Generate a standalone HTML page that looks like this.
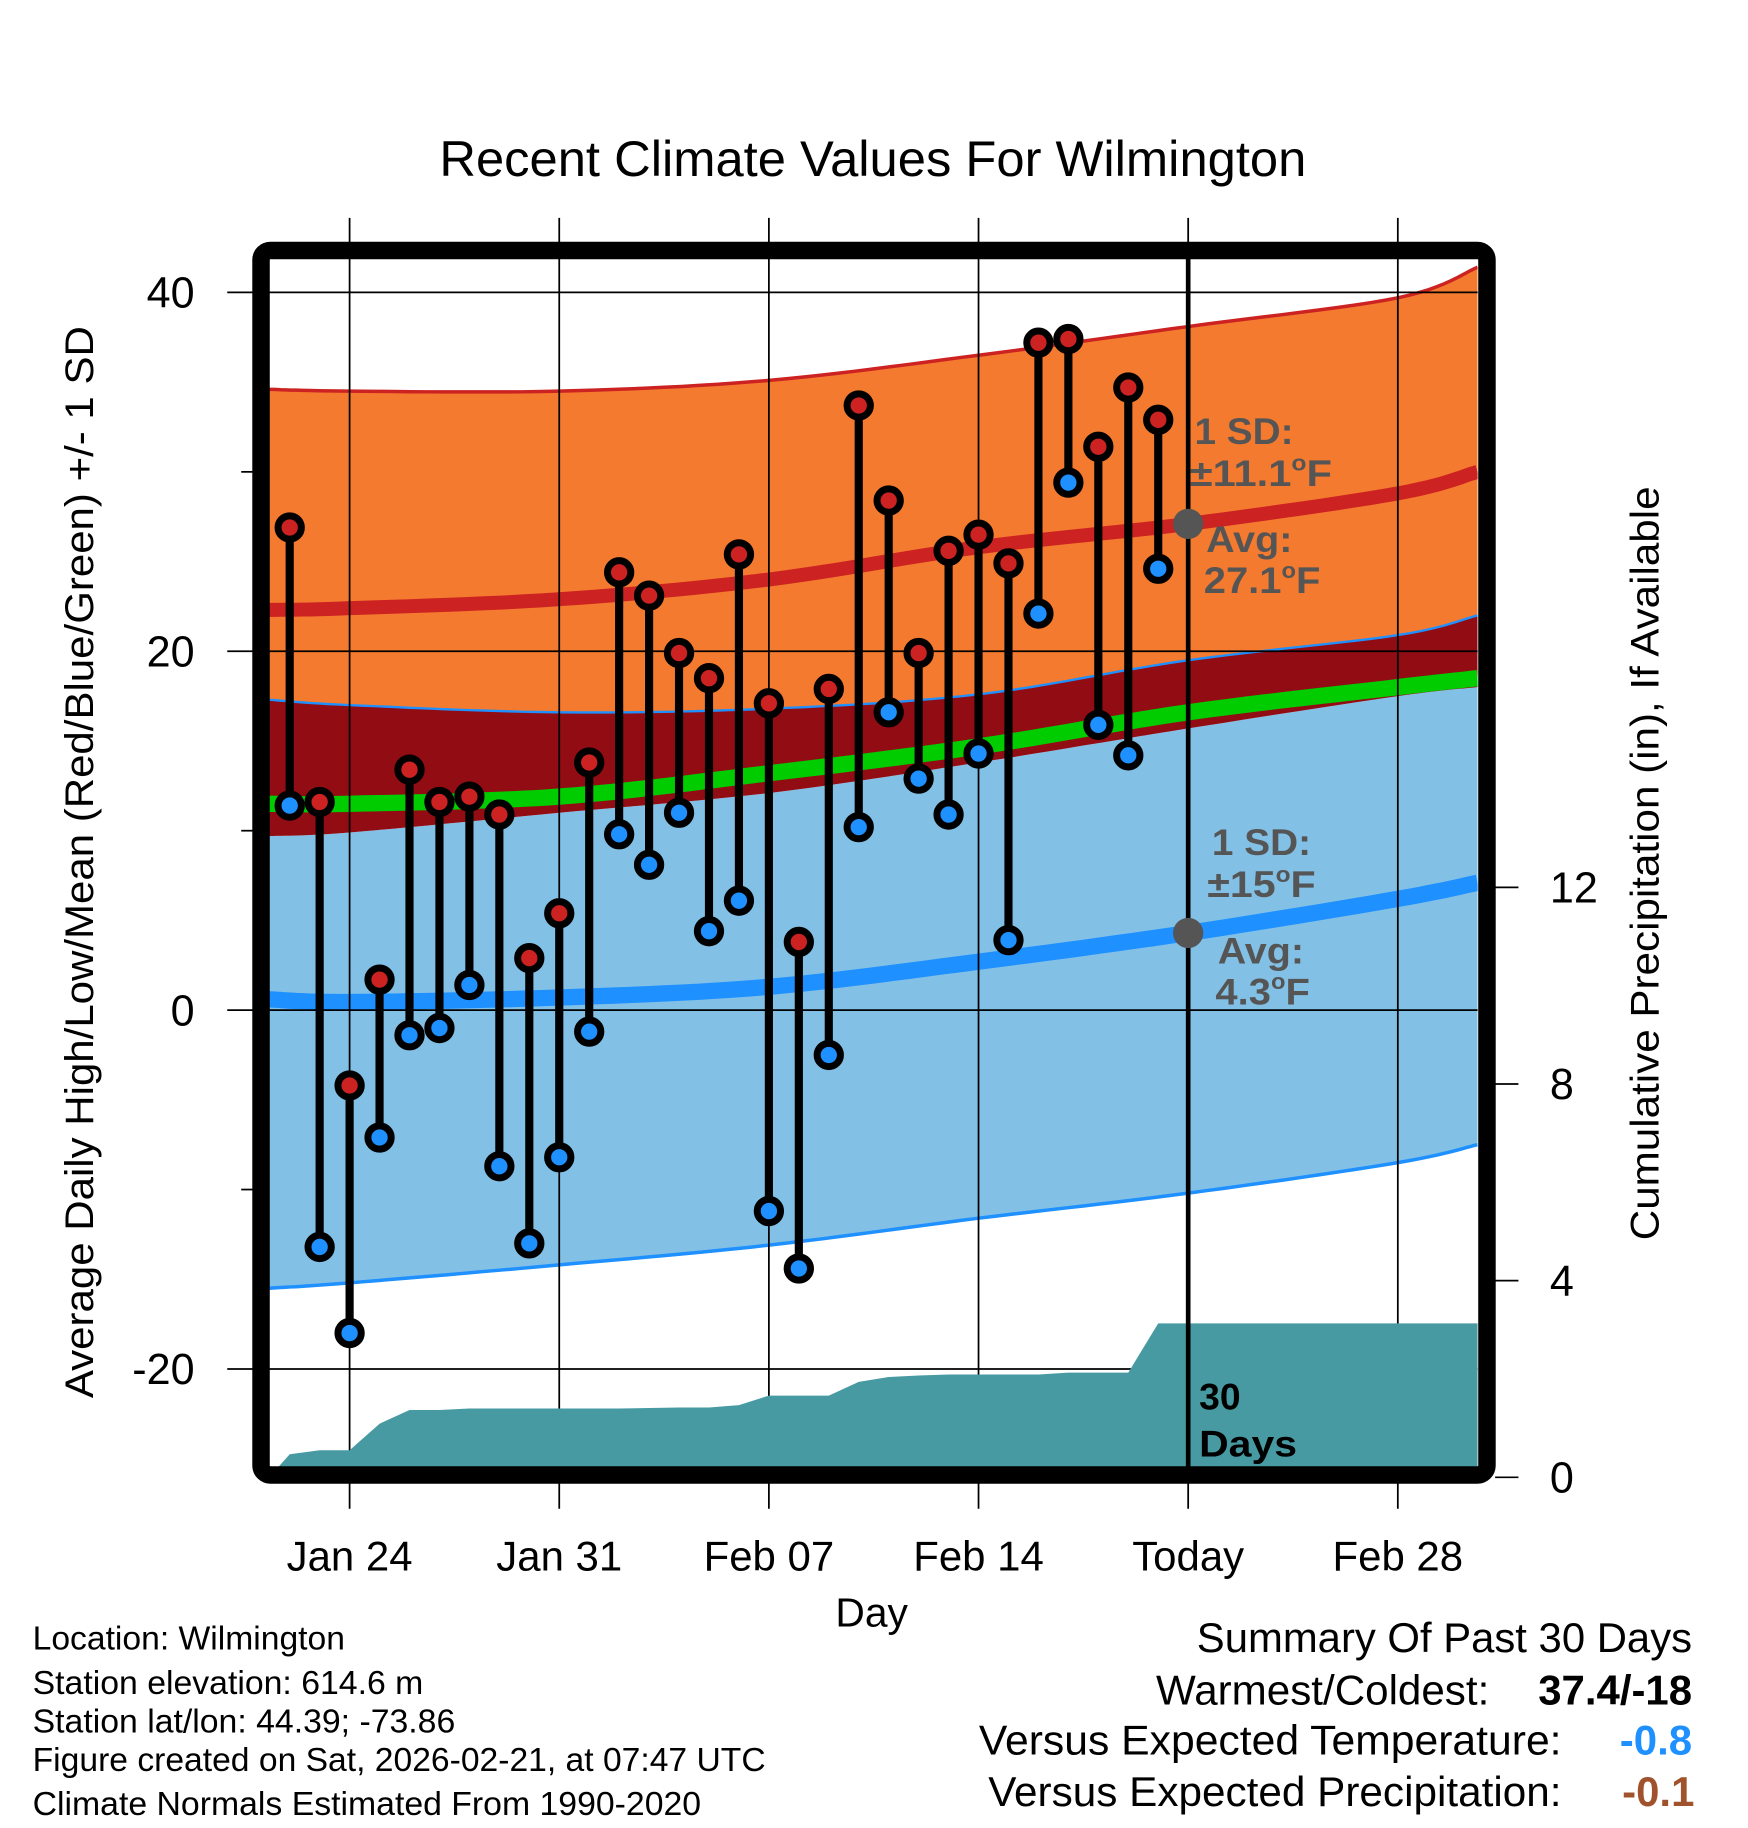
<!DOCTYPE html>
<html><head><meta charset="utf-8"><style>
html,body{margin:0;padding:0;background:#fff}
svg{display:block;font-family:"Liberation Sans",Arial,sans-serif}
</style></head><body>
<svg id="chart" width="1748" height="1828" viewBox="0 0 1500 1569" preserveAspectRatio="none" xmlns="http://www.w3.org/2000/svg">
<defs><clipPath id="plotclip"><rect x="231" y="222" width="1037" height="1037"/></clipPath></defs>
<g id="bands" clip-path="url(#plotclip)"></g>
<g id="grid"></g>
<g id="precip" clip-path="url(#plotclip)"></g>
<g id="marks"></g>
<rect x="224" y="215" width="1052" height="1051" rx="8" fill="none" stroke="#000" stroke-width="15"/>
<g id="labels"></g>
<text x="377" y="151" font-size="43" textLength="744" lengthAdjust="spacingAndGlyphs">Recent Climate Values For Wilmington</text>
<text transform="translate(80,740) rotate(-90)" font-size="34" text-anchor="middle" textLength="920" lengthAdjust="spacingAndGlyphs">Average Daily High/Low/Mean (Red/Blue/Green) +/- 1 SD</text>
<text transform="translate(1423,741) rotate(-90)" font-size="34" text-anchor="middle" textLength="647" lengthAdjust="spacingAndGlyphs">Cumulative Precipitation (in), If Available</text>
<text x="748" y="1396" font-size="35" text-anchor="middle">Day</text>
<g font-size="29">
<text x="28" y="1416" textLength="268" lengthAdjust="spacingAndGlyphs">Location: Wilmington</text>
<text x="28" y="1454">Station elevation: 614.6 m</text>
<text x="28" y="1487">Station lat/lon: 44.39; -73.86</text>
<text x="28" y="1520" textLength="629" lengthAdjust="spacingAndGlyphs">Figure created on Sat, 2026-02-21, at 07:47 UTC</text>
<text x="28" y="1558">Climate Normals Estimated From 1990-2020</text>
</g>
<g font-size="36">
<text x="1027" y="1418" textLength="425" lengthAdjust="spacingAndGlyphs">Summary Of Past 30 Days</text>
<text x="992" y="1463" textLength="286" lengthAdjust="spacingAndGlyphs">Warmest/Coldest:</text>
<text x="1320" y="1463" font-weight="bold" textLength="132" lengthAdjust="spacingAndGlyphs">37.4/-18</text>
<text x="840" y="1506" textLength="500" lengthAdjust="spacingAndGlyphs">Versus Expected Temperature:</text>
<text x="1452" y="1506" text-anchor="end" font-weight="bold" fill="#1e90ff">-0.8</text>
<text x="848" y="1550" textLength="492" lengthAdjust="spacingAndGlyphs">Versus Expected Precipitation:</text>
<text x="1454" y="1550" text-anchor="end" font-weight="bold" fill="#a0522d">-0.1</text>
</g>
</svg>
<script>
// normals sampled at day offsets from Jan 24
const normDays = [-2.68, 0, 7, 14, 21, 28, 35, 37.66];
const highPlusSD = [34.6, 34.5, 34.5, 35.1, 36.5, 38.1, 39.7, 41.4];
const highMean = [22.3, 22.4, 22.9, 24.0, 25.8, 27.1, 28.8, 30.0];
const highMinusSD = [17.3, 17.0, 16.6, 16.8, 17.6, 19.5, 20.9, 22.0];
const lowPlusSD = [9.7, 9.9, 11.0, 12.1, 13.8, 15.7, 17.5, 18.0];
const meanLine = [11.5, 11.5, 11.9, 13.2, 14.7, 16.6, 18.0, 18.5];
const lowMean = [0.6, 0.45, 0.7, 1.3, 2.7, 4.3, 6.2, 7.1];
const lowMinusSD = [-15.5, -15.2, -14.2, -13.1, -11.6, -10.2, -8.5, -7.5];
// observed days (offset from Jan 24)
const obsDays = [-2,-1,0,1,2,3,4,5,6,7,8,9,10,11,12,13,14,15,16,17,18,19,20,21,22,23,24,25,26,27];
const highs = [26.9,11.6,-4.2,1.7,13.4,11.6,11.9,10.9,2.9,5.4,13.8,24.4,23.1,19.9,18.5,25.4,17.1,3.8,17.9,33.7,28.4,19.9,25.6,26.5,24.9,37.2,37.4,31.4,34.7,32.9];
const lows = [11.4,-13.2,-18.0,-7.1,-1.4,-1.0,1.4,-8.7,-13.0,-8.2,-1.2,9.8,8.1,11.0,4.4,6.1,-11.2,-14.4,-2.5,10.2,16.6,12.9,10.9,14.3,3.9,22.1,29.4,15.9,14.2,24.6];
const precip = [0.47,0.55,0.55,1.09,1.37,1.37,1.40,1.40,1.40,1.40,1.40,1.40,1.41,1.42,1.42,1.47,1.66,1.66,1.66,1.94,2.04,2.07,2.09,2.09,2.09,2.09,2.13,2.13,2.13,3.13];
const yTicks = [40,20,0,-20];
const yMinor = [30,10,-10];
const pTicks = [0,4,8,12];
const xTickDays = [0,7,14,21,28,35];
const xTickLabels = ["Jan 24","Jan 31","Feb 07","Feb 14","Today","Feb 28"];

const NS = "http://www.w3.org/2000/svg";
const xS = d => 300 + d * 25.7;
const yS = t => 867 - t * 15.4;
const pS = p => 1268 - p * 42.2;
function mk(tag, attrs, parent) {
  const e = document.createElementNS(NS, tag);
  for (const k in attrs) e.setAttribute(k, attrs[k]);
  parent.appendChild(e);
  return e;
}
function pts(days, vals, f) { return days.map((d, i) => xS(d).toFixed(1) + "," + f(vals[i]).toFixed(1)); }
// smooth curve samples via Catmull-Rom
function smooth(vals) {
  const P = normDays.map((d, i) => [xS(d), yS(vals[i])]);
  const out = [];
  for (let i = 0; i < P.length - 1; i++) {
    const p0 = P[Math.max(0, i - 1)], p1 = P[i], p2 = P[i + 1], p3 = P[Math.min(P.length - 1, i + 2)];
    for (let s = 0; s < 12; s++) {
      const t = s / 12, t2 = t * t, t3 = t2 * t;
      const f = (a, b, c, d) => 0.5 * (2 * b + (-a + c) * t + (2 * a - 5 * b + 4 * c - d) * t2 + (-a + 3 * b - 3 * c + d) * t3);
      out.push([f(p0[0], p1[0], p2[0], p3[0]), f(p0[1], p1[1], p2[1], p3[1])]);
    }
  }
  out.push(P[P.length - 1]);
  return out.map(p => p[0].toFixed(1) + "," + p[1].toFixed(1));
}
function band(top, bot) {
  return "M" + smooth(top).join(" L") + " L" + smooth(bot).reverse().join(" L") + " Z";
}
const bands = document.getElementById("bands");
let e;
e = mk("path", {d: band(highPlusSD, highMinusSD), fill: "#f47a2f"}, bands);


e = mk("path", {d: band(lowPlusSD, lowMinusSD), fill: "#82c0e6"}, bands);


e = mk("path", {d: band(highMinusSD, lowPlusSD), fill: "#920c14"}, bands);


function line(vals, color, w, name) {
  const l = mk("polyline", {points: smooth(vals).join(" "), fill: "none", stroke: color, "stroke-width": w}, bands);
  
  
}
line(highPlusSD, "#cc2222", 3, "high-plus-sd-line");
line(highMinusSD, "#1e90ff", 2, "high-minus-sd-line");
line(meanLine, "#00cc00", 14, "mean-normal-line");
line(highMean, "#cc2222", 12, "high-normal-line");
line(lowMean, "#1e90ff", 14, "low-normal-line");
line(lowMinusSD, "#1e90ff", 3, "low-minus-sd-line");

const grid = document.getElementById("grid");
yTicks.forEach(t => {
  e = mk("line", {x1: 195, x2: 1268, y1: yS(t), y2: yS(t), stroke: "#000", "stroke-width": 1.5}, grid);
  
  
  e = mk("text", {x: 167, y: yS(t) + 13, "font-size": 37, "text-anchor": "end"}, grid);
  e.textContent = t;
  
  
});
yMinor.forEach(t => {
  e = mk("line", {x1: 207, x2: 217, y1: yS(t), y2: yS(t), stroke: "#000", "stroke-width": 1.5}, grid);
  
  
});
pTicks.forEach(p => {
  e = mk("line", {x1: 1283, x2: 1303, y1: pS(p), y2: pS(p), stroke: "#000", "stroke-width": 1.5}, grid);
  
  
  e = mk("text", {x: 1330, y: pS(p) + 13, "font-size": 37}, grid);
  e.textContent = p;
  
  
});
xTickDays.forEach((d, i) => {
  e = mk("line", {x1: xS(d), x2: xS(d), y1: 187, y2: 1295, stroke: "#000", "stroke-width": 1.5}, grid);
  
  
  e = mk("text", {x: xS(d), y: 1348, "font-size": 36, "text-anchor": "middle"}, grid);
  e.textContent = xTickLabels[i];
  
  
});

const pg = document.getElementById("precip");
let pd = "M231,1268 L" + pts(obsDays, precip, pS).join(" L") + " L1268," + pS(precip[precip.length - 1]).toFixed(1) + " L1268,1268 Z";
e = mk("path", {d: pd, fill: "#479aa2"}, pg);



const mg = document.getElementById("marks");
e = mk("line", {x1: xS(28), x2: xS(28), y1: 222, y2: 1259, stroke: "#000", "stroke-width": 4}, mg);


obsDays.forEach((d, i) => {
  e = mk("line", {x1: xS(d), x2: xS(d), y1: yS(highs[i]), y2: yS(lows[i]), stroke: "#000", "stroke-width": 7}, mg);
  
  
});
obsDays.forEach((d, i) => {
  e = mk("circle", {cx: xS(d), cy: yS(highs[i]), r: 10, fill: "#cc2222", stroke: "#000", "stroke-width": 6}, mg);
  
  
  e = mk("circle", {cx: xS(d), cy: yS(lows[i]), r: 10, fill: "#1e90ff", stroke: "#000", "stroke-width": 6}, mg);
  
  
});
e = mk("circle", {cx: xS(28), cy: yS(highMean[5]), r: 13, fill: "#555"}, mg);


e = mk("circle", {cx: xS(28), cy: yS(lowMean[5]), r: 13, fill: "#555"}, mg);



const lg = document.getElementById("labels");
function lab(x, y, txt, name, color, len) {
  const t = mk("text", {x: x, y: y, "font-size": 32, "font-weight": "bold", fill: color}, lg);
  if (len) { t.setAttribute("textLength", len); t.setAttribute("lengthAdjust", "spacingAndGlyphs"); }
  t.innerHTML = txt;
  
  
}
const deg = "<tspan font-size='19' dy='-13'>o</tspan><tspan dy='13'>F</tspan>";
lab(1025, 381, "1 SD:", "high-sd-label", "#555", 85);
lab(1021, 417, "±11.1" + deg, "high-sd-value", "#555", 122);
lab(1035, 474, "Avg:", "high-avg-label", "#555", 74);
lab(1033, 509, "27.1" + deg, "high-avg-value", "#555", 100);
lab(1040, 734, "1 SD:", "low-sd-label", "#555", 85);
lab(1036, 770, "±15" + deg, "low-sd-value", "#555", 93);
lab(1045, 827, "Avg:", "low-avg-label", "#555", 74);
lab(1043, 862, "4.3" + deg, "low-avg-value", "#555", 81);
lab(1029, 1210, "30", "days-label-number", "#000");
lab(1029, 1250, "Days", "days-label-text", "#000", 84);
</script>
</body></html>
